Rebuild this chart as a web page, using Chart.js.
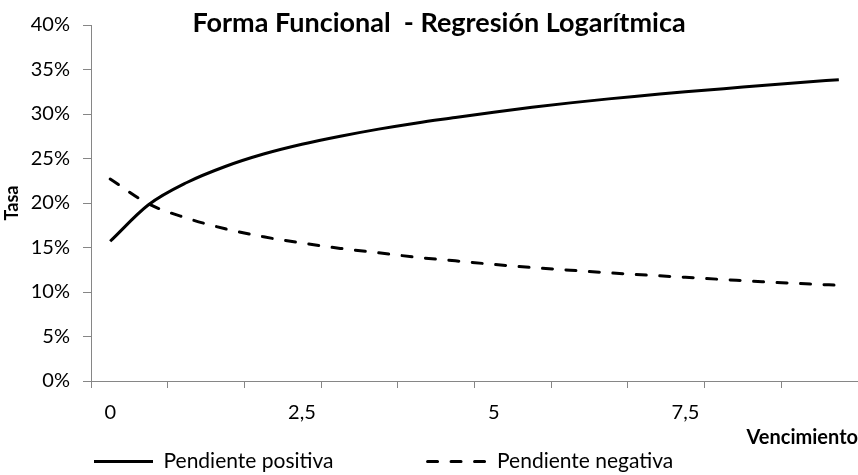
<!DOCTYPE html>
<html>
<head>
<meta charset="utf-8">
<script src="https://cdn.jsdelivr.net/npm/chart.js@4/dist/chart.umd.min.js"></script>
<style>
  html, body { margin: 0; padding: 0; background: #ffffff; }
  canvas { display: block; }
</style>
</head>
<body>
<canvas id="grafico" width="858" height="475"></canvas>
<script>
// Vencimientos (años) y tasas (%) de cada forma funcional
const vencimientos = [0, 0.5, 1, 1.5, 2, 2.5, 3, 3.5, 4, 4.5, 5, 5.5, 6, 6.5, 7, 7.5, 8, 8.5, 9, 9.5];
const pendientePositiva = [15.7, 19.8, 22.3, 24.1, 25.5, 26.6, 27.5, 28.3, 29.0, 29.6, 30.2, 30.75, 31.25, 31.7, 32.1, 32.5, 32.85, 33.2, 33.55, 33.85];
const pendienteNegativa = [22.7, 19.9, 18.3, 17.1, 16.2, 15.5, 14.9, 14.4, 13.9, 13.5, 13.1, 12.75, 12.45, 12.15, 11.9, 11.65, 11.4, 11.15, 10.95, 10.75];
const tasaMin = 0;
const tasaMax = 40;
const tasaPaso = 5;
const cadaEtiqueta = 5;   // una etiqueta de vencimiento cada 5 categorías
const cadaMarca = 2;      // una marca del eje cada 2 categorías

const gris = '#868686';
const fuente = "Lato, 'Open Sans', 'DejaVu Sans', sans-serif";
Chart.defaults.font.family = fuente;
Chart.defaults.color = '#000000';

const formatoDecimal = v => String(v).replace('.', ',');

// Título centrado sobre el área de trazado
const tituloGrafico = {
  id: 'tituloGrafico',
  afterDraw(chart, args, opts) {
    const ctx = chart.ctx;
    ctx.save();
    ctx.font = 'bold ' + opts.size + 'px ' + fuente;
    ctx.fillStyle = '#000000';
    ctx.textAlign = 'center';
    ctx.textBaseline = 'middle';
    ctx.fillText(opts.text, opts.x, opts.y);
    ctx.restore();
  }
};

// La leyenda ocupa poco alto en el diseño; su separación horizontal
// (labels.padding) no debe empujar el eje X hacia arriba.
const filaLeyenda = {
  id: 'filaLeyenda',
  afterLayout(chart) {
    const lg = chart.legend;
    if (!lg) return;
    lg.top -= lg.options.labels.padding;
  }
};

new Chart(document.getElementById('grafico'), {
  type: 'line',
  data: {
    labels: vencimientos,
    datasets: [
      {
        label: 'Pendiente positiva',
        data: pendientePositiva,
        borderColor: '#000000',
        backgroundColor: '#000000',
        borderWidth: 3,
        pointRadius: 0,
        cubicInterpolationMode: 'monotone',
        fill: false
      },
      {
        label: 'Pendiente negativa',
        data: pendienteNegativa,
        borderColor: '#000000',
        backgroundColor: '#000000',
        borderWidth: 3,
        borderDash: [10, 13.5],
        borderCapStyle: 'round',
        pointRadius: 0,
        cubicInterpolationMode: 'monotone',
        fill: false
      }
    ]
  },
  options: {
    responsive: false,
    animation: false,
    devicePixelRatio: 1,
    layout: { autoPadding: false, padding: { top: 9, right: 0, bottom: 0, left: 0 } },
    plugins: {
      tooltip: { enabled: false },
      title: { display: false },
      tituloGrafico: { text: 'Forma Funcional  - Regresión Logarítmica', x: 439, y: 23, size: 27 },
      legend: {
        position: 'bottom',
        align: 'start',
        maxHeight: 24,
        labels: {
          usePointStyle: true,
          pointStyle: 'line',
          pointStyleWidth: 59,
          padding: 94,
          color: '#000000',
          font: { size: 21 },
          generateLabels(chart) {
            const base = Chart.defaults.plugins.legend.labels.generateLabels(chart);
            return base.map(item => {
              const ds = chart.data.datasets[item.datasetIndex];
              item.lineDash = ds.borderDash || [];
              item.lineCap = ds.borderCapStyle || 'butt';
              item.lineWidth = ds.borderWidth;
              item.strokeStyle = ds.borderColor;
              return item;
            });
          }
        }
      }
    },
    scales: {
      x: {
        type: 'category',
        offset: true,
        grid: {
          offset: true,
          drawOnChartArea: false,
          drawTicks: true,
          tickLength: 7,
          tickWidth: 1,
          color: gris,
          tickColor: c => (c.index % cadaMarca === 0 ? gris : 'rgba(0,0,0,0)')
        },
        border: { color: gris, width: 1 },
        ticks: {
          autoSkip: false,
          maxRotation: 0,
          padding: 13,
          color: '#000000',
          font: { size: 20 },
          callback: (v, i) => (i % cadaEtiqueta === 0 ? formatoDecimal(vencimientos[i]) : '')
        },
        title: {
          display: true,
          text: 'Vencimiento',
          align: 'end',
          color: '#000000',
          font: { size: 20, weight: 'bold' },
          padding: { top: 0, bottom: 1 }
        },
        afterFit: s => { s.height = 70; }
      },
      y: {
        min: tasaMin,
        max: tasaMax,
        grid: {
          drawOnChartArea: false,
          drawTicks: true,
          tickLength: 8,
          color: gris
        },
        border: { color: gris, width: 1 },
        ticks: {
          stepSize: tasaPaso,
          padding: 13,
          color: '#000000',
          font: { size: 20 },
          callback: v => v + '%'
        },
        title: {
          display: true,
          text: 'Tasa',
          color: '#000000',
          font: { size: 18, weight: 'bold' },
          padding: { top: 1, bottom: 0 }
        },
        afterFit: s => { s.width = 91; }
      }
    }
  },
  plugins: [tituloGrafico, filaLeyenda]
});
</script>
</body>
</html>
